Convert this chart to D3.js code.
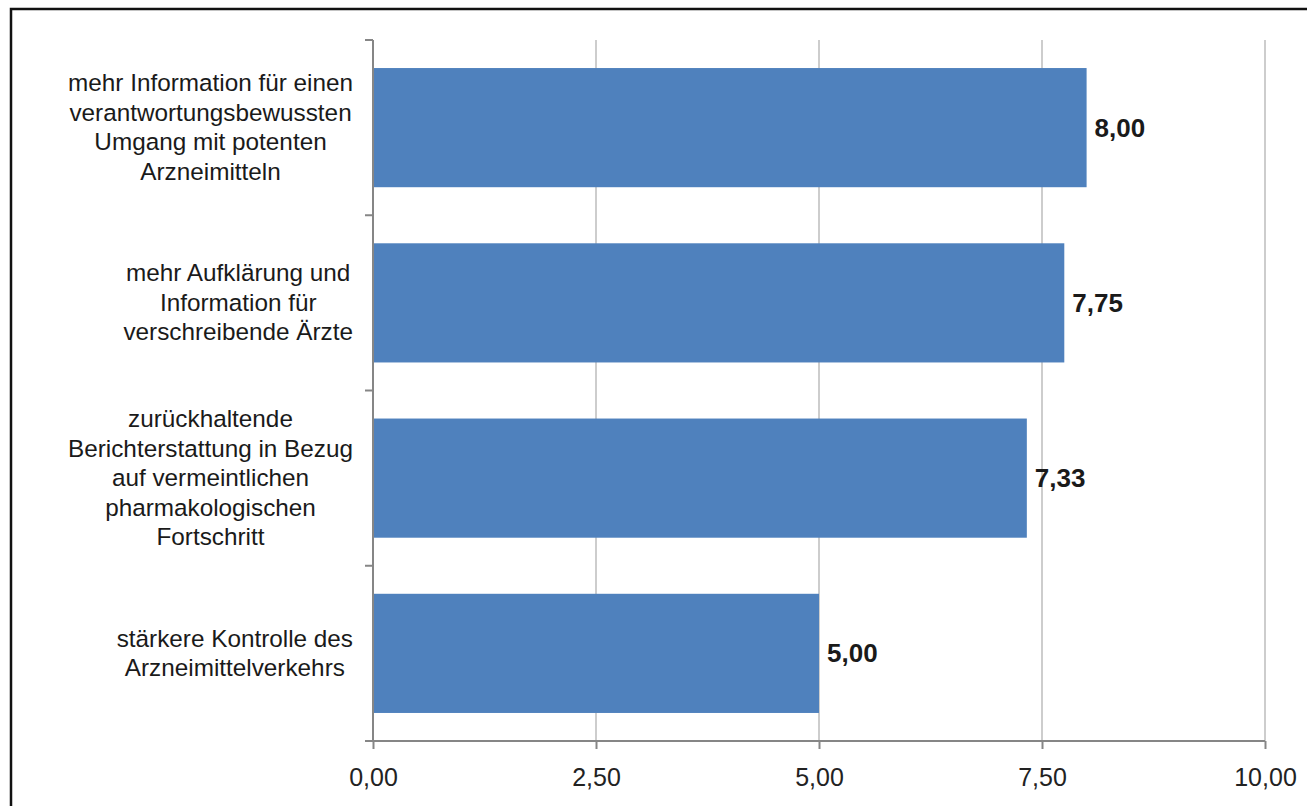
<!DOCTYPE html>
<html>
<head>
<meta charset="utf-8">
<script src="https://cdn.jsdelivr.net/npm/d3@7"></script>
<style>
  body { margin: 0; background: #fff; }
  svg { display: block; font-family: "Liberation Sans", Arial, sans-serif; }
</style>
</head>
<body>
<svg id="chart" width="1307" height="806"></svg>
<script>
// categories, one array of lines per label
var categories = [
  ["mehr Information für einen", "verantwortungsbewussten", "Umgang mit potenten", "Arzneimitteln"],
  ["mehr Aufklärung und", "Information für", "verschreibende Ärzte"],
  ["zurückhaltende", "Berichterstattung in Bezug", "auf vermeintlichen", "pharmakologischen", "Fortschritt"],
  ["stärkere Kontrolle des", "Arzneimittelverkehrs"]
];
var values = [8.00, 7.75, 7.33, 5.00];
var xTicks = [0, 2.5, 5, 7.5, 10];

var fmt = function(v) { return d3.format(".2f")(v).replace(".", ","); };

var svg = d3.select("#chart");
var margin = {left: 373, right: 42, top: 40, bottom: 65};
var width = 1307, height = 806;

// outer frame
svg.append("rect")
  .attr("x", 11).attr("y", 9)
  .attr("width", 1310).attr("height", 810)
  .attr("fill", "none")
  .attr("stroke", "#111")
  .attr("stroke-width", 2.5);

var x = d3.scaleLinear().domain([0, 10]).range([margin.left, width - margin.right]);
var y = d3.scaleBand().domain(d3.range(categories.length))
  .range([margin.top, height - margin.bottom]).padding(0);

// vertical gridlines
svg.append("g").selectAll("line")
  .data(xTicks.slice(1))
  .enter().append("line")
  .attr("x1", function(d) { return x(d); })
  .attr("x2", function(d) { return x(d); })
  .attr("y1", margin.top)
  .attr("y2", height - margin.bottom)
  .attr("stroke", "#bdbdbd")
  .attr("stroke-width", 1.5);

// bars
var barH = y.bandwidth() * 0.68;
svg.append("g").selectAll("rect")
  .data(values)
  .enter().append("rect")
  .attr("x", x(0) + 1)
  .attr("y", function(d, i) { return y(i) + (y.bandwidth() - barH) / 2; })
  .attr("width", function(d) { return x(d) - x(0) - 1; })
  .attr("height", barH)
  .attr("fill", "#4f81bd");

// x axis
var xAxis = svg.append("g")
  .attr("transform", "translate(0," + (height - margin.bottom) + ")")
  .call(d3.axisBottom(x).tickValues(xTicks).tickFormat(fmt).tickSize(8).tickPadding(19));
xAxis.select(".domain").remove();
xAxis.append("line")
  .attr("x1", x(0) - 8).attr("x2", x(10))
  .attr("stroke", "#868686").attr("stroke-width", 2);
xAxis.selectAll(".tick line").attr("stroke", "#868686").attr("stroke-width", 2);
xAxis.selectAll(".tick text")
  .attr("fill", "#222")
  .style("font-size", "25px")
  .style("font-family", "'Liberation Sans', Arial, sans-serif");

// y axis with ticks at band boundaries
var yAxis = svg.append("g");
yAxis.append("line")
  .attr("x1", x(0)).attr("x2", x(0))
  .attr("y1", margin.top).attr("y2", height - margin.bottom)
  .attr("stroke", "#868686").attr("stroke-width", 2);
yAxis.selectAll("line.tk")
  .data(d3.range(categories.length))
  .enter().append("line")
  .attr("class", "tk")
  .attr("x1", x(0) - 8).attr("x2", x(0))
  .attr("y1", function(i) { return y(i); })
  .attr("y2", function(i) { return y(i); })
  .attr("stroke", "#868686").attr("stroke-width", 2);

// category labels: lines centred, block right-aligned next to the axis
var lineH = 29.5;
var labelRight = x(0) - 20;
categories.forEach(function(lines, i) {
  var t = svg.append("text")
    .attr("text-anchor", "middle")
    .attr("fill", "#1a1a1a")
    .style("font-size", "24.3px");
  var cy = y(i) + y.bandwidth() / 2;
  var y0 = cy - (lines.length - 1) * lineH / 2 + 8;
  var spans = lines.map(function(l, k) {
    return t.append("tspan").attr("y", y0 + k * lineH).text(l);
  });
  var maxW = d3.max(spans, function(s) { return s.node().getComputedTextLength(); });
  spans.forEach(function(s) { s.attr("x", labelRight - maxW / 2); });
});

// value labels
svg.append("g").selectAll("text")
  .data(values)
  .enter().append("text")
  .attr("x", function(d) { return x(d) + 8; })
  .attr("y", function(d, i) { return y(i) + y.bandwidth() / 2 + 9; })
  .attr("fill", "#1a1a1a")
  .style("font-size", "26px")
  .style("font-weight", "bold")
  .text(function(d) { return fmt(d); });
</script>
</body>
</html>
